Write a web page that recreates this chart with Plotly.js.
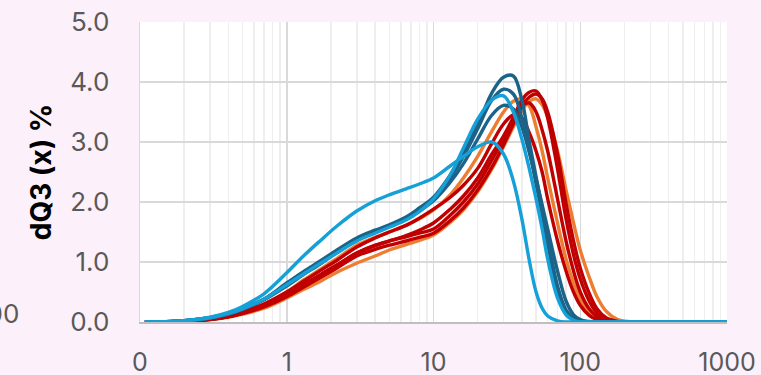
<!DOCTYPE html>
<html>
<head>
<meta charset="utf-8">
<script src="https://cdn.plot.ly/plotly-3.0.1.min.js"></script>
<style>
html,body{margin:0;padding:0;background:#FCF0FA;}
#chart{width:761px;height:375px;}
</style>
</head>
<body>
<div id="chart"></div>
<script>
// Particle size grid (µm)
const sizes = [0.108, 0.15, 0.2, 0.3, 0.4, 0.5, 0.7, 1, 1.3, 1.7, 2.2, 3, 4, 5, 6.5, 8, 10, 13, 16, 20, 25, 30, 35, 40, 45, 50, 55, 60, 70, 80, 90, 100, 115, 130, 150, 180, 220, 300, 1000];

// dQ3 (x) % series
const orange2 = [0, 0.003, 0.012, 0.04, 0.08, 0.13, 0.23, 0.40, 0.54, 0.68, 0.83, 0.98, 1.10, 1.20, 1.29, 1.36, 1.45, 1.66, 1.87, 2.17, 2.55, 2.92, 3.25, 3.52, 3.68, 3.72, 3.62, 3.42, 2.85, 2.20, 1.65, 1.20, 0.75, 0.42, 0.18, 0.04, 0.005, 0, 0];
const orange1 = [0, 0.003, 0.015, 0.05, 0.10, 0.17, 0.30, 0.50, 0.70, 0.88, 1.06, 1.28, 1.41, 1.50, 1.61, 1.72, 1.87, 2.12, 2.40, 2.76, 3.18, 3.50, 3.68, 3.72, 3.60, 3.25, 2.85, 2.40, 1.65, 1.05, 0.65, 0.38, 0.17, 0.07, 0.02, 0.003, 0, 0, 0];
const red1 = [0, 0.003, 0.015, 0.05, 0.10, 0.17, 0.30, 0.50, 0.68, 0.86, 1.03, 1.25, 1.40, 1.50, 1.61, 1.73, 1.88, 2.08, 2.28, 2.56, 2.98, 3.30, 3.45, 3.40, 3.15, 2.85, 2.50, 2.05, 1.35, 0.85, 0.50, 0.28, 0.11, 0.04, 0.01, 0, 0, 0, 0];
const red4 = [0, 0.003, 0.013, 0.045, 0.09, 0.15, 0.27, 0.45, 0.62, 0.79, 0.95, 1.15, 1.28, 1.35, 1.44, 1.53, 1.65, 1.88, 2.10, 2.40, 2.80, 3.10, 3.40, 3.60, 3.65, 3.50, 3.20, 2.85, 2.05, 1.35, 0.85, 0.50, 0.22, 0.09, 0.02, 0.003, 0, 0, 0];
const red2 = [0, 0.003, 0.013, 0.045, 0.09, 0.15, 0.27, 0.45, 0.62, 0.79, 0.95, 1.15, 1.27, 1.35, 1.42, 1.48, 1.55, 1.78, 2.00, 2.30, 2.70, 3.05, 3.40, 3.70, 3.83, 3.85, 3.70, 3.40, 2.55, 1.72, 1.12, 0.72, 0.35, 0.15, 0.04, 0.005, 0, 0, 0];
const red3 = [0, 0.003, 0.012, 0.04, 0.085, 0.14, 0.25, 0.42, 0.58, 0.74, 0.90, 1.10, 1.21, 1.28, 1.35, 1.41, 1.48, 1.69, 1.90, 2.20, 2.58, 2.95, 3.30, 3.60, 3.75, 3.80, 3.72, 3.50, 2.80, 1.98, 1.35, 0.90, 0.48, 0.22, 0.07, 0.01, 0, 0, 0];
const dark3 = [0, 0.004, 0.02, 0.07, 0.13, 0.21, 0.37, 0.60, 0.79, 0.97, 1.16, 1.37, 1.50, 1.60, 1.72, 1.85, 2.02, 2.33, 2.64, 3.05, 3.45, 3.61, 3.55, 3.25, 2.82, 2.38, 1.95, 1.55, 0.85, 0.35, 0.12, 0.04, 0.008, 0, 0, 0, 0, 0, 0];
const dark2 = [0, 0.004, 0.02, 0.07, 0.14, 0.22, 0.38, 0.63, 0.82, 1.00, 1.18, 1.38, 1.51, 1.60, 1.73, 1.87, 2.05, 2.40, 2.76, 3.22, 3.70, 3.88, 3.80, 3.40, 2.85, 2.30, 1.80, 1.30, 0.55, 0.18, 0.05, 0.01, 0, 0, 0, 0, 0, 0, 0];
const dark1 = [0, 0.004, 0.02, 0.07, 0.14, 0.22, 0.38, 0.65, 0.84, 1.02, 1.20, 1.40, 1.53, 1.62, 1.75, 1.90, 2.08, 2.45, 2.82, 3.28, 3.82, 4.08, 4.10, 3.70, 3.00, 2.42, 1.90, 1.40, 0.60, 0.20, 0.06, 0.015, 0, 0, 0, 0, 0, 0, 0];
const light2 = [0, 0.004, 0.02, 0.07, 0.14, 0.22, 0.38, 0.62, 0.80, 0.98, 1.15, 1.35, 1.48, 1.58, 1.70, 1.84, 2.05, 2.45, 2.90, 3.38, 3.70, 3.77, 3.50, 3.05, 2.55, 2.05, 1.55, 1.05, 0.40, 0.12, 0.03, 0.005, 0, 0, 0, 0, 0, 0, 0];
const light1 = [0, 0.005, 0.02, 0.08, 0.16, 0.26, 0.47, 0.82, 1.10, 1.36, 1.60, 1.85, 2.02, 2.12, 2.22, 2.30, 2.40, 2.60, 2.76, 2.92, 3.00, 2.80, 2.35, 1.72, 1.02, 0.50, 0.23, 0.10, 0.02, 0, 0, 0, 0, 0, 0, 0, 0, 0, 0];

const xTickVals = [0.1, 1, 10, 100, 1000];
const xTickText = ['0', '1', '10', '100', '1000'];

const ORANGE = '#ED7D31', RED = '#C00000', DARK = '#1B6388', LIGHT = '#15A0D8';
const series = [
  [orange2, ORANGE], [orange1, ORANGE], [red1, RED], [red4, RED], [red2, RED], [red3, RED],
  [dark3, DARK], [dark2, DARK], [dark1, DARK], [light2, LIGHT], [light1, LIGHT]
];

const traces = series.map(([ys, c]) => ({
  x: sizes, y: ys, type: 'scatter', mode: 'lines',
  line: {color: c, width: 3.4, shape: 'spline', smoothing: 1},
  cliponaxis: false, hoverinfo: 'skip', showlegend: false
}));

const minorVals = [];
[0.1, 1, 10, 100].forEach(d => { for (let k = 2; k <= 9; k++) minorVals.push(d * k); });

const FONT = 'Inter, Roboto, sans-serif';
const layout = {
  width: 761, height: 375,
  margin: {l: 140, r: 34, t: 22, b: 53},
  paper_bgcolor: '#FCF0FA', plot_bgcolor: '#FFFFFF',
  showlegend: false,
  font: {family: FONT, size: 26, color: '#595959'},
  xaxis: {
    type: 'log', range: [-1, 3],
    tickmode: 'array', tickvals: xTickVals, ticktext: xTickText,
    showgrid: true, gridcolor: '#D9D9D9', gridwidth: 1.5,
    minor: {tickmode: 'array', tickvals: minorVals, showgrid: true, gridcolor: '#EEEEEE', gridwidth: 1.5, ticks: ''},
    showline: true, linecolor: '#BFBFBF', linewidth: 1.5,
    ticks: '', ticklabelstandoff: 17, zeroline: false,
    tickfont: {family: FONT, size: 25, color: '#595959'}
  },
  yaxis: {
    range: [0, 5], dtick: 1, tickformat: '.1f',
    showgrid: true, gridcolor: '#D9D9D9', gridwidth: 1.5,
    showline: true, linecolor: '#D9D9D9', linewidth: 1.5,
    zeroline: false, ticks: '', ticklabelstandoff: 24,
    tickfont: {family: FONT, size: 26, color: '#595959'},
    title: {text: 'dQ3 (x) %', font: {family: FONT, size: 28, color: '#000000', weight: 'bold'}, standoff: 10}
  },
  annotations: [{
    text: '100', xref: 'paper', yref: 'paper', x: -0.202, y: 0.027,
    xanchor: 'right', yanchor: 'middle', showarrow: false,
    font: {family: FONT, size: 26, color: '#595959'}
  }]
};

Plotly.newPlot('chart', traces, layout, {staticPlot: true, displayModeBar: false});
</script>
</body>
</html>
